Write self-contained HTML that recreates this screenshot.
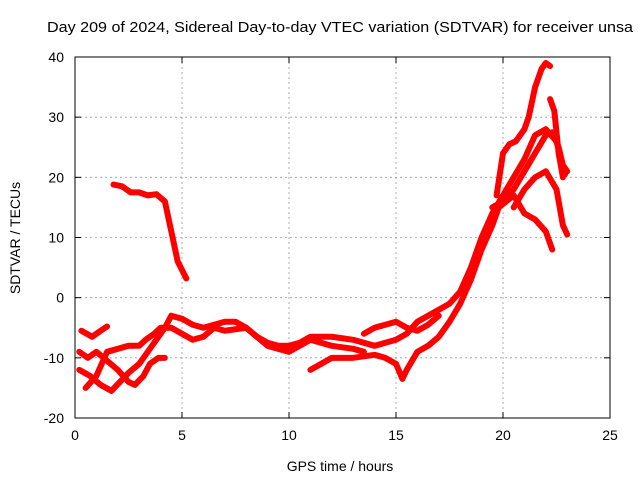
<!DOCTYPE html>
<html><head><meta charset="utf-8"><style>
body{margin:0;background:#fff;}
svg{display:block;font-family:"Liberation Sans",sans-serif;}
</style></head><body>
<svg id="chart" width="640" height="480">
<rect width="640" height="480" fill="#fff"/>
<text x="47" y="32" font-size="15" textLength="586" lengthAdjust="spacingAndGlyphs">Day 209 of 2024, Sidereal Day-to-day VTEC variation (SDTVAR) for receiver unsa</text>
<g id="grid"></g><g id="axes"></g><g id="series"></g>
<text x="340" y="471" font-size="14" text-anchor="middle">GPS time / hours</text>
<text x="20" y="238" font-size="14" text-anchor="middle" transform="rotate(-90 20 238)">SDTVAR / TECUs</text>
</svg>
<script>
const xTicks=[0,5,10,15,20,25];
const yTicks=[-20,-10,0,10,20,30,40];
const track1=[[0.3,-5.5],[0.8,-6.5],[1.2,-5.5],[1.5,-4.8]];
const track2=[[0.2,-12],[0.7,-13],[1.2,-14.5],[1.7,-15.5],[2.1,-14],[2.5,-12.5],[3.0,-11],[3.4,-9],[3.8,-7],[4.2,-5],[4.5,-3],[5,-3.5],[5.5,-4.5],[6,-5],[7,-4],[7.5,-4],[8,-5],[8.5,-6.5],[9,-7.5],[9.5,-8],[10,-8],[10.5,-7.5],[11,-6.5],[12,-6.5],[13,-7],[14,-8],[15,-7],[15.5,-6],[16,-4],[16.5,-3],[17,-2],[17.5,-1],[18,1],[18.5,5],[19,10],[19.5,14],[20,17],[20.5,20],[21,23],[21.5,27],[22,28],[22.5,26],[22.9,20.5]];
const track3=[[0.2,-9],[0.6,-10],[1,-9],[1.5,-10.5],[2,-12],[2.5,-14],[2.8,-14.5],[3.2,-13],[3.5,-11],[3.9,-10],[4.2,-10]];
const track4=[[0.5,-15],[1,-13],[1.5,-9],[2,-8.5],[2.5,-8],[3,-8],[3.3,-7],[3.7,-6],[4,-5],[4.5,-5],[5,-6],[5.5,-7],[6,-6.5],[6.5,-5],[7,-5.5],[8,-5],[9,-8],[10,-9],[10.5,-8],[11,-7],[12,-8],[13,-8.5],[13.5,-9]];
const track5=[[11,-12],[11.5,-11],[12,-10],[13,-10],[14,-9.5],[14.5,-10],[15,-11],[15.3,-13.5],[15.5,-12],[16,-9],[16.5,-8],[17,-6.5],[17.5,-4],[18,-1],[18.5,3],[19,8],[19.5,12],[19.8,15],[20.5,17],[21,14],[21.5,13],[22,11],[22.3,8]];
const track6=[[13.5,-6],[14,-5],[14.5,-4.5],[15,-4],[15.5,-5],[16,-5.5],[16.5,-4.5],[17,-3]];
const track7=[[19.7,17],[20,24],[20.3,25.5],[20.6,26],[21,28],[21.2,30],[21.5,35],[21.8,38],[22,39],[22.2,38.5]];
const track8=[[19.5,15],[20,16],[20.5,18],[21,21],[21.5,24],[22,27],[22.3,27.5],[22.6,25],[22.8,22],[23,21]];
const track9=[[22.2,33],[22.4,31],[22.6,24],[22.8,20]];
const track10=[[20.5,15],[21,18],[21.5,20],[22,21],[22.5,18],[22.8,12],[23,10.5]];
const track11=[[1.8,18.8],[2.2,18.5],[2.6,17.5],[3.0,17.5],[3.4,17],[3.8,17.2],[4.2,16],[4.5,11],[4.8,6],[5.2,3.2]];
const tracks=[track1,track2,track3,track4,track5,track6,track7,track8,track9,track10,track11];
const L=75,R=610,T=57,B=418;
const xs=v=>L+(v-0)/25*(R-L);
const ys=v=>B-(v+20)/60*(B-T);
const NS='http://www.w3.org/2000/svg';
const grid=document.getElementById('grid'),axes=document.getElementById('axes'),ser=document.getElementById('series');
function mk(tag,attrs,parent){const e=document.createElementNS(NS,tag);for(const k in attrs)e.setAttribute(k,attrs[k]);parent.appendChild(e);return e;}
xTicks.forEach(t=>{const x=xs(t);
 if(t>0&&t<25){const g=mk('line',{x1:x,x2:x,y1:T,y2:B,stroke:'#999','stroke-dasharray':'2,3','stroke-width':0.8},grid);
 
 }
 const tx=mk('text',{x:x,y:B+22,'font-size':14,'text-anchor':'middle'},axes);tx.textContent=t;
 
 
 mk('line',{x1:x,x2:x,y1:B,y2:B-6,stroke:'#000'},axes);mk('line',{x1:x,x2:x,y1:T,y2:T+6,stroke:'#000'},axes);});
yTicks.forEach(t=>{const y=ys(t);
 if(t>-20&&t<40){const g=mk('line',{x1:L,x2:R,y1:y,y2:y,stroke:'#999','stroke-dasharray':'2,3','stroke-width':0.8},grid);
 
 }
 const tx=mk('text',{x:L-11,y:y+5,'font-size':14,'text-anchor':'end'},axes);tx.textContent=t;
 
 
 mk('line',{x1:L,x2:L+6,y1:y,y2:y,stroke:'#000'},axes);mk('line',{x1:R,x2:R-6,y1:y,y2:y,stroke:'#000'},axes);});
const frame=mk('rect',{x:L,y:T,width:R-L,height:B-T,fill:'none',stroke:'#000'},axes);


tracks.forEach(tr=>{const p=mk('polyline',{points:tr.map(d=>xs(d[0])+','+ys(d[1])).join(' '),fill:'none',stroke:'#f00','stroke-width':6,'stroke-linejoin':'round','stroke-linecap':'round'},ser);
 
 });
</script>
</body></html>
